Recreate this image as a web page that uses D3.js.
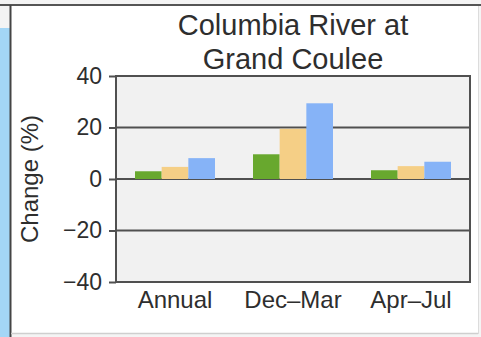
<!DOCTYPE html>
<html>
<head>
<meta charset="utf-8">
<script src="https://cdn.jsdelivr.net/npm/d3@7"></script>
<style>
  html, body { margin: 0; padding: 0; background: #ffffff; }
  svg { display: block; }
  text { font-family: "Liberation Sans", Arial, Helvetica, sans-serif; fill: #2e2e2e; }
</style>
</head>
<body>
<svg id="chart" width="481" height="337"></svg>
<script>
// Projected change in streamflow, Columbia River at Grand Coulee
const categories = ["Annual", "Dec–Mar", "Apr–Jul"];
const seriesNames = ["2020s", "2040s", "2080s"];
const values2020s = [3.0, 9.6, 3.4];
const values2040s = [4.7, 19.5, 5.0];
const values2080s = [8.1, 29.4, 6.7];
const seriesColors = ["#68a82e", "#f5cf86", "#86b3f7"];
const yTicks = [-40, -20, 0, 20, 40];
const titleLines = ["Columbia River at", "Grand Coulee"];
const yLabel = "Change (%)";

const seriesValues = [values2020s, values2040s, values2080s];
const rows = categories.map((c, i) => ({
  category: c,
  bars: seriesNames.map((s, j) => ({ series: s, value: seriesValues[j][i], color: seriesColors[j] }))
}));

const svg = d3.select("#chart");
const W = 481, H = 337;

// page frame: blue strip on the left, panel edges
svg.append("rect").attr("x", 0).attr("y", 0).attr("width", W).attr("height", H).attr("fill", "#f4f4f4");
svg.append("rect").attr("x", 0).attr("y", 28).attr("width", 11).attr("height", H - 28).attr("fill", "#a3d6f6");
svg.append("rect").attr("x", 11).attr("y", 6).attr("width", 467).attr("height", 327).attr("fill", "#ffffff");
svg.append("line").attr("x1", 0).attr("x2", W).attr("y1", 5).attr("y2", 5).attr("stroke", "#555").attr("stroke-width", 2);
svg.append("line").attr("x1", 10.5).attr("x2", 10.5).attr("y1", 5).attr("y2", H).attr("stroke", "#444").attr("stroke-width", 2);
svg.append("line").attr("x1", 11).attr("x2", 478).attr("y1", 333.5).attr("y2", 333.5).attr("stroke", "#cfcfcf").attr("stroke-width", 1.5);
svg.append("line").attr("x1", 478.5).attr("x2", 478.5).attr("y1", 6).attr("y2", 334).attr("stroke", "#dcdcdc").attr("stroke-width", 1);

// plot region
const plotLeft = 116, plotRight = 470, plotTop = 76, plotBottom = 282;
const x = d3.scaleBand().domain(categories).range([plotLeft, plotRight]).padding(0);
const xInner = d3.scaleBand().domain(seriesNames).range([0, 80]).padding(0);
const y = d3.scaleLinear().domain([-40, 40]).range([plotBottom, plotTop]);
const groupOffset = (x.bandwidth() - 80) / 2;

svg.append("rect")
  .attr("x", plotLeft).attr("y", plotTop)
  .attr("width", plotRight - plotLeft).attr("height", plotBottom - plotTop)
  .attr("fill", "#f1f1f1");

// horizontal reference lines
svg.append("g")
  .selectAll("line")
  .data(yTicks.filter(t => t !== 40 && t !== -40))
  .join("line")
  .attr("x1", plotLeft).attr("x2", plotRight)
  .attr("y1", d => y(d)).attr("y2", d => y(d))
  .attr("stroke", "#505050").attr("stroke-width", 2);

// bars
const groups = svg.append("g")
  .selectAll("g")
  .data(rows)
  .join("g")
  .attr("transform", d => `translate(${x(d.category) + groupOffset},0)`);

groups.selectAll("rect")
  .data(d => d.bars)
  .join("rect")
  .attr("x", d => xInner(d.series))
  .attr("width", xInner.bandwidth())
  .attr("y", d => y(Math.max(0, d.value)))
  .attr("height", d => Math.abs(y(d.value) - y(0)))
  .attr("fill", d => d.color);

// plot border
svg.append("rect")
  .attr("x", plotLeft).attr("y", plotTop)
  .attr("width", plotRight - plotLeft).attr("height", plotBottom - plotTop)
  .attr("fill", "none").attr("stroke", "#505050").attr("stroke-width", 2);

// y axis
const yAxis = svg.append("g")
  .attr("transform", `translate(${plotLeft},0)`)
  .call(d3.axisLeft(y).tickValues(yTicks).tickSizeInner(7).tickSizeOuter(0).tickPadding(7));
yAxis.select(".domain").remove();
yAxis.selectAll(".tick line").attr("stroke", "#505050").attr("stroke-width", 2);
yAxis.selectAll(".tick text")
  .attr("fill", "#2e2e2e")
  .style("font-family", "'Liberation Sans', Arial, sans-serif")
  .style("font-size", "23px");

// category labels
svg.append("g")
  .selectAll("text")
  .data(categories)
  .join("text")
  .attr("x", d => x(d) + x.bandwidth() / 2)
  .attr("y", 308)
  .attr("text-anchor", "middle")
  .style("font-size", "24px")
  .text(d => d);

// y axis label
svg.append("text")
  .attr("transform", `translate(38,${(plotTop + plotBottom) / 2}) rotate(-90)`)
  .attr("text-anchor", "middle")
  .style("font-size", "24px")
  .text(yLabel);

// title
svg.append("g")
  .selectAll("text")
  .data(titleLines)
  .join("text")
  .attr("x", 293)
  .attr("y", (d, i) => 35 + i * 34)
  .attr("text-anchor", "middle")
  .style("font-size", "29px")
  .text(d => d);
</script>
</body>
</html>
